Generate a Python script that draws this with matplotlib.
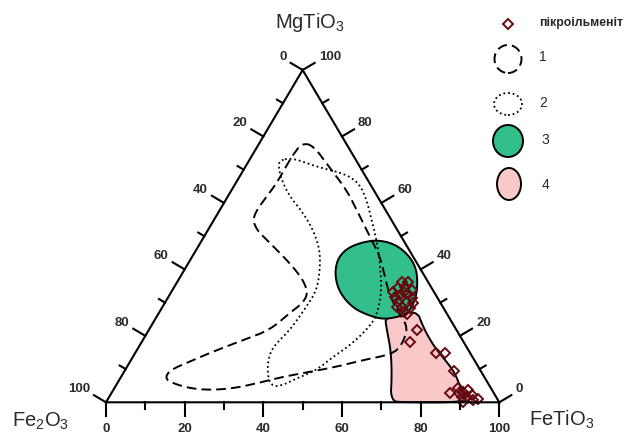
import numpy as np
import matplotlib
matplotlib.use("Agg")
from matplotlib import pyplot as plt
from matplotlib.patches import Polygon, Ellipse

# compositions, mol.%: FeTiO3 and MgTiO3 (Fe2O3 = 100 - both)
pikro_fetio3 = [57.0, 58.7, 61.0, 62.1, 58.6, 58.6, 57.6, 61.3, 60.8, 62.0, 63.1, 59.2,
                63.2, 56.4, 57.0, 59.2, 60.5, 59.6, 63.2, 68.1, 68.2, 76.5, 78.8, 83.7,
                86.0, 87.5, 89.2, 90.3, 89.6, 90.9, 91.9, 94.2, 93.0, 90.7, 88.5]
pikro_mgtio3 = [36.3, 36.3, 33.8, 31.3, 34.8, 32.3, 31.8, 30.3, 28.8, 27.3, 28.3, 30.3,
                29.8, 33.3, 34.4, 33.2, 32.6, 28.7, 26.6, 21.8, 18.2, 14.9, 14.9, 9.5,
                2.9, 4.2, 3.2, 3.7, 1.7, 1.7, 2.2, 0.9, 0.7, 0.2, 2.7]

field1_fetio3 = [10.8, 13.9, 21.7, 29.2, 34.8, 42.2, 47.8, 52.0, 56.3, 61.6, 65.6, 66.6,
                 65.5, 59.0, 53.3, 47.3, 41.2, 35.5, 30.2, 24.6, 19.3, 14.2, 11.4, 11.4,
                 15.8, 20.3, 25.5, 30.8, 33.3, 35.1, 34.9, 31.7, 27.1, 21.8, 16.5, 12.4,
                 9.9, 9.4, 9.9, 10.4, 10.3, 10.3]
field1_mgtio3 = [77.9, 77.4, 70.5, 63.9, 57.9, 49.8, 43.8, 37.8, 31.8, 26.3, 22.4, 17.2,
                 14.5, 12.7, 10.7, 9.2, 7.7, 5.7, 4.2, 3.7, 4.2, 5.7, 7.2, 9.7,
                 12.7, 15.7, 18.7, 21.8, 26.9, 29.9, 32.9, 36.8, 40.8, 44.9, 48.8, 51.9,
                 54.9, 57.9, 61.9, 66.0, 70.5, 74.4]

field2_fetio3 = [7.8, 10.8, 18.1, 24.0, 28.1, 31.9, 35.8, 40.1, 44.4, 48.7, 53.2, 55.3,
                 55.9, 53.9, 50.9, 48.7, 44.9, 42.4, 40.1, 37.5, 34.8, 34.1, 35.9, 36.6,
                 36.7, 34.5, 31.5, 26.7, 21.6, 15.8, 11.2, 8.4]
field2_mgtio3 = [72.9, 73.5, 70.9, 69.4, 67.9, 65.4, 60.9, 54.9, 48.8, 41.9, 33.8, 27.8,
                 23.9, 17.8, 13.7, 9.7, 7.2, 5.2, 4.7, 7.3, 12.7, 16.7, 21.8, 28.8,
                 33.8, 39.8, 45.8, 51.9, 57.0, 61.9, 66.9, 70.9]

field3_fetio3 = [41.3, 45.3, 50.3, 55.4, 59.1, 61.8, 63.2, 63.5, 61.1, 58.0, 54.1, 48.7,
                 43.1, 39.3, 37.3, 38.0]
field3_mgtio3 = [48.3, 48.8, 47.3, 43.8, 39.8, 34.8, 30.8, 26.8, 25.6, 25.0, 26.0, 28.3,
                 32.8, 37.8, 42.8, 46.3]

field4_fetio3 = [57.9, 60.5, 63.9, 66.7, 69.7, 71.0, 72.8, 74.3, 91.5, 90.1, 87.6, 84.0,
                 80.6, 76.3, 73.1, 69.2, 65.1]
field4_mgtio3 = [26.0, 21.8, 16.7, 11.8, 5.8, 2.8, 0.5, 0.0, 0.0, 1.9, 4.9, 9.1,
                 12.1, 15.7, 18.7, 22.8, 27.8]

ticks = np.arange(0, 101, 10)

SQ = np.sqrt(3) / 2
# picture geometry (pixels)
W, H = 630, 434
X0, Y0, TW, TH = 106, 402.3, 393.3, 332.3
kx = TW / 100.0
ky = TH / (100 * SQ)


def tern(fetio3, mgtio3):
    a = np.asarray(fetio3, float)
    b = np.asarray(mgtio3, float)
    return a + b / 2, b * SQ


def px(xp, yp):
    return (xp - X0) / kx, (Y0 - yp) / ky


def chaikin(x, y, n=2):
    p = np.column_stack([x, y])
    for _ in range(n):
        q = np.roll(p, -1, axis=0)
        p = np.column_stack([0.75 * p + 0.25 * q, 0.25 * p + 0.75 * q]).reshape(-1, 2)
    return p


plt.rcParams['font.family'] = ['Liberation Sans', 'DejaVu Sans']
plt.rcParams['mathtext.fontset'] = 'custom'
plt.rcParams['mathtext.rm'] = 'Liberation Sans'
plt.rcParams['mathtext.it'] = 'Liberation Sans'
plt.rcParams['mathtext.bf'] = 'Liberation Sans:bold'

fig = plt.figure(figsize=(W / 100, H / 100), dpi=100)
ax = fig.add_axes([0, 0, 1, 1])
ax.set_xlim(-X0 / kx, (W - X0) / kx)
ax.set_ylim(-(H - Y0) / ky, Y0 / ky)
ax.axis('off')

dash = (0, (5, 2.6))
dot = (0, (1, 1.6))
txtc = '#2a2a2a'
mcol = '#640a10'

# fields
x, y = tern(field4_fetio3, field4_mgtio3)
ax.add_patch(Polygon(chaikin(x, y), closed=True, fc='#f9c8c8', ec='black', lw=1.4, zorder=2))
x, y = tern(field3_fetio3, field3_mgtio3)
ax.add_patch(Polygon(chaikin(x, y), closed=True, fc='#33bf8b', ec='black', lw=1.4, zorder=3))
x, y = tern(field1_fetio3, field1_mgtio3)
p = chaikin(x, y)
p = np.vstack([p, p[:1]])
ax.plot(p[:, 0], p[:, 1], color='black', lw=1.4, ls=dash, zorder=4)
x, y = tern(field2_fetio3, field2_mgtio3)
p = chaikin(x, y)
p = np.vstack([p, p[:1]])
ax.plot(p[:, 0], p[:, 1], color='black', lw=1.3, ls=dot, zorder=4)

x, y = tern(pikro_fetio3, pikro_mgtio3)
ax.plot(x, y, ls='none', marker='D', ms=5, mfc='none', mec=mcol, mew=1.4, zorder=5)

# triangle
tx, ty = tern([0, 100, 0, 0], [0, 0, 100, 0])
ax.plot(tx, ty, color='black', lw=1.5, zorder=6, solid_joinstyle='miter')


def pvec(ux, uy, L):
    # direction in pixel space (y up) -> data offset
    return ux * L / kx, uy * L / ky


nl = np.hypot(TW / 2, TH)
lx, ly = -TH / nl, (TW / 2) / nl  # outward normal of left edge (pixels, y up)

for v in ticks:
    L = 14 if v % 20 == 0 else 7
    # bottom: FeTiO3
    bx, by = tern(v, 0)
    dx, dy = pvec(0, -1, L)
    ax.plot([bx, bx + dx], [by, by + dy], color='black', lw=1.5, zorder=6)
    if v % 20 == 0:
        ax.annotate(str(v), (bx + dx, by + dy), xytext=(0, -13), textcoords='offset pixels',
                    ha='center', va='center', fontsize=9.5, fontweight='bold', color=txtc)
    # left: Fe2O3
    bx, by = tern(0, 100 - v)
    dx, dy = pvec(lx, ly, L)
    ax.plot([bx, bx + dx], [by, by + dy], color='black', lw=1.5, zorder=6)
    if v % 20 == 0:
        ax.annotate(str(v), (bx + dx, by + dy), xytext=(-4, 6), textcoords='offset pixels',
                    ha='right', va='center', fontsize=9.5, fontweight='bold', color=txtc)
    # right: MgTiO3
    bx, by = tern(100 - v, v)
    dx, dy = pvec(-lx, ly, L)
    ax.plot([bx, bx + dx], [by, by + dy], color='black', lw=1.5, zorder=6)
    if v % 20 == 0:
        ax.annotate(str(v), (bx + dx, by + dy), xytext=(4, 6), textcoords='offset pixels',
                    ha='left', va='center', fontsize=9.5, fontweight='bold', color=txtc)

# corner names
fig.text(310 / W, 1 - 23 / H, r'MgTiO$_3$', ha='center', va='center', fontsize=14.5,
         color=txtc)
fig.text(41 / W, 1 - 421 / H, r'Fe$_2$O$_3$', ha='center', va='center', fontsize=14.5,
         color=txtc)
fig.text(562 / W, 1 - 420 / H, r'FeTiO$_3$', ha='center', va='center', fontsize=14.5,
         color=txtc)

# legend
ax.plot(*px(508, 24), ls='none', marker='D', ms=5, mfc='none', mec=mcol, mew=1.4)
ax.text(*px(539, 23), 'пікроільменіт', ha='left', va='center', fontsize=8.8,
        fontweight='bold', color=txtc)
ax.add_patch(Ellipse(px(508, 59), 27 / kx, 28 / ky, fc='none', ec='black', lw=1.4, ls=dash))
ax.add_patch(Ellipse(px(508, 104), 28 / kx, 22 / ky, fc='none', ec='black', lw=1.3, ls=dot))
ax.add_patch(Ellipse(px(508, 141), 30 / kx, 32 / ky, fc='#33bf8b', ec='black', lw=1.4))
ax.add_patch(Ellipse(px(509, 184), 24 / kx, 32 / ky, fc='#f9c8c8', ec='black', lw=1.4))
for lab, (xp, yp) in zip(['1', '2', '3', '4'], [(543, 57), (543, 103), (545, 140), (546, 185)]):
    ax.text(*px(xp, yp), lab, ha='center', va='center', fontsize=10, color=txtc)

fig.savefig('out.png', dpi=100)
